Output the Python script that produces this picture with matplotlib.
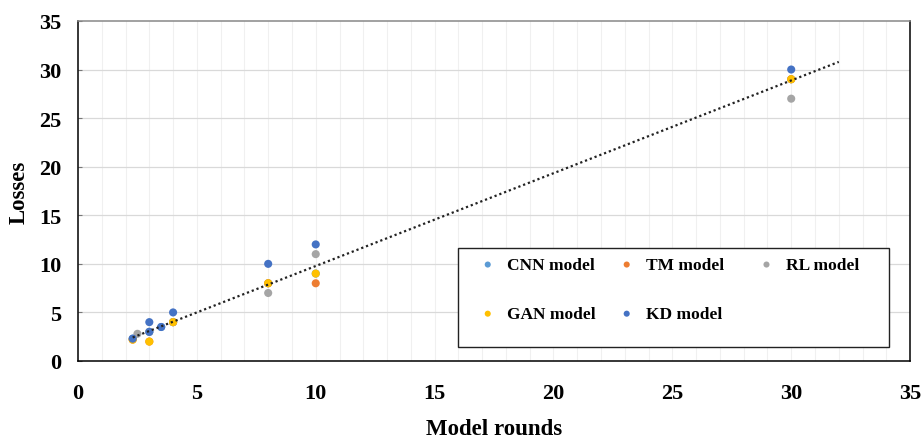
import matplotlib
matplotlib.use("Agg")
import matplotlib.pyplot as plt
import matplotlib.patches as mpatches
from matplotlib.legend import Legend
import numpy as np

plt.rcParams['font.family'] = ['Liberation Serif', 'DejaVu Serif']
plt.rcParams['font.weight'] = 'bold'

# data
cnn_x = [2.3, 3, 3.5, 4, 8, 10, 30]
cnn_y = [2.3, 3, 3.5, 4, 8, 9, 29]
tm_x = [2.3, 3, 4, 8, 10, 30]
tm_y = [2.2, 2, 4, 8, 8, 29]
rl_x = [2.5, 3, 4, 8, 10, 30]
rl_y = [2.8, 3, 4, 7, 11, 27]
gan_x = [2.3, 3, 4, 8, 10, 30]
gan_y = [2.2, 2, 4, 8, 9, 29]
kd_x = [2.3, 3, 3, 3.5, 4, 8, 10, 30]
kd_y = [2.3, 3, 4, 3.5, 5, 10, 12, 30]

series = [
    ("CNN model", cnn_x, cnn_y, "#5B9BD5"),
    ("TM model", tm_x, tm_y, "#ED7D31"),
    ("RL model", rl_x, rl_y, "#A5A5A5"),
    ("GAN model", gan_x, gan_y, "#FFC000"),
    ("KD model", kd_x, kd_y, "#4472C4"),
]

fig = plt.figure(figsize=(9.23, 4.39), dpi=100)
ax = fig.add_axes([0.0845, 0.1754, 0.9015, 0.7746])

for x in np.arange(1, 35):
    ax.axvline(x, color='#F0F0F0', lw=0.8, zorder=0)
for y in np.arange(5, 35, 5):
    ax.axhline(y, color='#D9D9D9', lw=0.9, zorder=0)

handles = {}
for name, xs, ys, col in series:
    handles[name] = ax.scatter(xs, ys, s=34, color=col, edgecolors='none', zorder=3, label=name)

# linear trendline over all points, extended forward
all_x = np.concatenate([s[1] for s in series])
all_y = np.concatenate([s[2] for s in series])
k, b = np.polyfit(all_x, all_y, 1)
tx = np.array([min(all_x), 32])
ax.plot(tx, k * tx + b, linestyle=(0, (1, 1.3)), color='#222222', lw=1.6, zorder=4)

ax.set_xlim(0, 35)
ax.set_ylim(0, 35)
ax.set_xticks(np.arange(0, 36, 5))
ax.set_yticks(np.arange(0, 36, 5))
ax.tick_params(axis='x', length=0, labelsize=16, pad=16)
ax.tick_params(axis='y', length=3, direction='in', color='#777777', labelsize=16, pad=12)
for lbl in ax.get_xticklabels() + ax.get_yticklabels():
    lbl.set_fontweight('bold')

ax.set_xlabel("Model rounds", fontsize=16.5, fontweight='bold')
ax.set_ylabel("Losses", fontsize=16.5, fontweight='bold')
ax.xaxis.set_label_coords(0.5, -0.168)
ax.yaxis.set_label_coords(-0.058, 0.5)

for side in ['left', 'bottom', 'right']:
    ax.spines[side].set_color('#000000')
    ax.spines[side].set_linewidth(1.1)
ax.spines['top'].set_color('#888888')
ax.spines['top'].set_linewidth(1.1)

# legend box with three equal-width columns
box = mpatches.Rectangle((0.457, 0.041), 0.518, 0.291, transform=ax.transAxes,
                         facecolor='white', edgecolor='#222222', lw=1.0, zorder=5)
ax.add_patch(box)
columns = [["CNN model", "GAN model"], ["TM model", "KD model"], ["RL model"]]
col_x = [0.482, 0.649, 0.817]
for names, cx in zip(columns, col_x):
    leg = Legend(ax, [handles[n] for n in names], names,
                 loc='upper left', bbox_to_anchor=(cx, 0.306), frameon=False,
                 prop={'family': 'Liberation Serif', 'weight': 'bold', 'size': 12.5},
                 markerscale=0.75, handlelength=1.0, handletextpad=0.6,
                 labelspacing=1.9, borderpad=0, borderaxespad=0)
    leg.set_zorder(6)
    ax.add_artist(leg)

fig.savefig("out.png", dpi=100)
